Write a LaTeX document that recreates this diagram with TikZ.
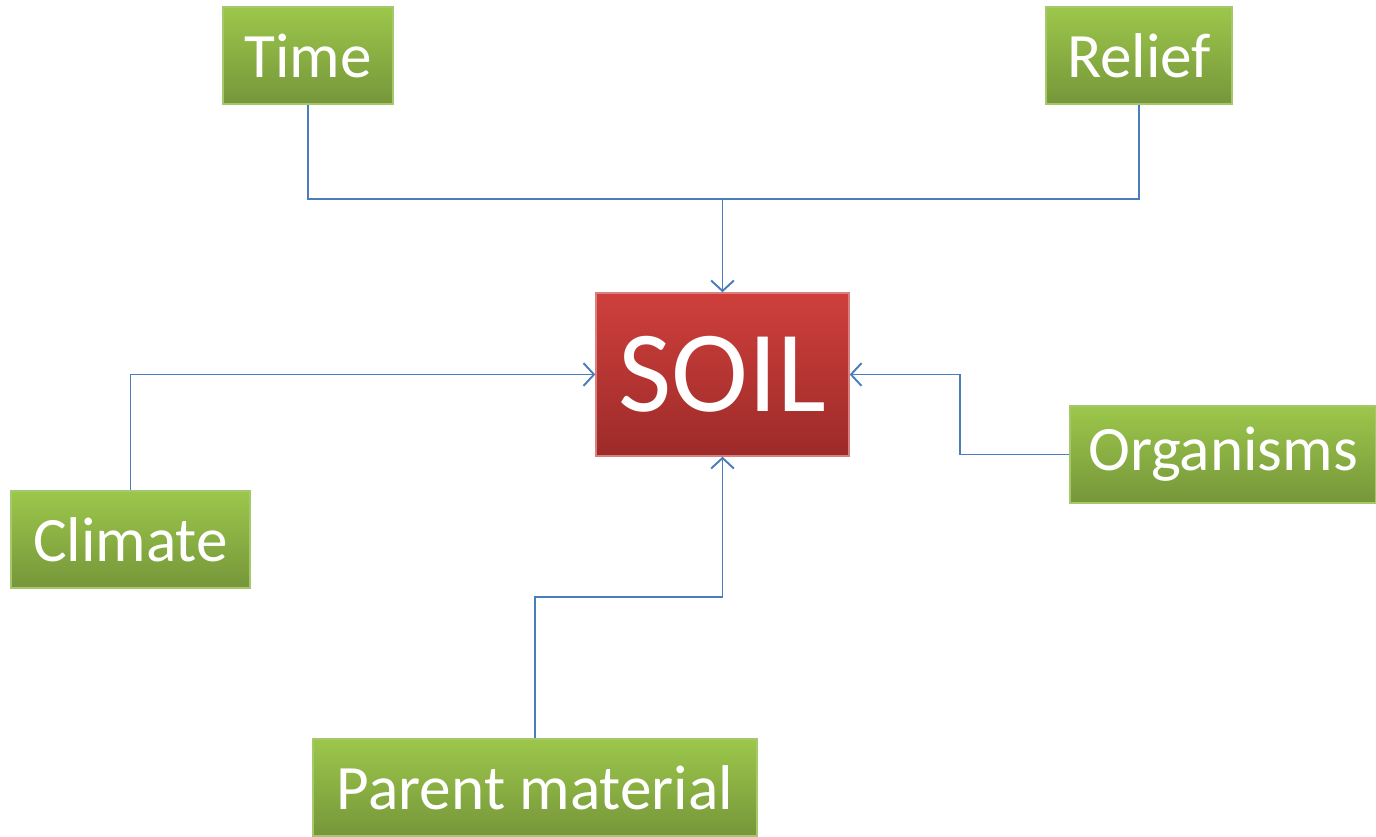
\documentclass[tikz,border=0pt]{standalone}
\usepackage{fontspec}
\setmainfont{Carlito}
\usetikzlibrary{arrows.meta}
\definecolor{factortop}{HTML}{9CC74B}
\definecolor{factorbot}{HTML}{76963A}
\definecolor{factorline}{HTML}{A5C86A}
\definecolor{soiltop}{HTML}{CF3F3C}
\definecolor{soilbot}{HTML}{9C2B29}
\definecolor{soilline}{HTML}{D9807E}
\definecolor{linkblue}{HTML}{4A7EBB}
\tikzset{
  factor/.style={draw=factorline,line width=0.8pt,top color=factortop,bottom color=factorbot,
    text=white,inner sep=0pt,minimum height=1.94cm,font=\fontsize{36}{40}\selectfont},
  soilbox/.style={draw=soilline,line width=0.8pt,top color=soiltop,bottom color=soilbot,
    text=white,inner sep=0pt,minimum width=5.06cm,minimum height=3.26cm,font=\fontsize{66}{70}\selectfont},
  link/.style={draw=linkblue,line width=1.1pt},
  >={Straight Barb[length=6pt,width=13pt,line width=1.1pt]},
}
\begin{document}
\begin{tikzpicture}[x=0.02cm,y=-0.02cm]
  \useasboundingbox (0,0) rectangle (1376,837);
  \node[soilbox]                     (soil)    at (722.5,374.5) {SOIL};
  \node[factor,minimum width=3.4cm]  (time)    at (308,55.5)    {Time};
  \node[factor,minimum width=3.72cm] (relief)  at (1139,55.5)   {Relief};
  \node[factor,minimum width=4.78cm] (climate) at (130.5,539.5) {Climate};
  \node[factor,minimum width=6.12cm] (org)     at (1223,454.5)  {Organisms};
  \node[factor,minimum width=8.88cm] (parent)  at (535,787.5)   {Parent material};
  % bends
  \coordinate (hub)     at (722.5,199);
  \coordinate (orgbend) at (960,454.5);
  \coordinate (pmbend)  at (722.5,597);
  \draw[link,->] (time.south) |- (hub) -- (soil.north);
  \draw[link] (relief.south) |- (hub);
  \draw[link,->] (climate.north) |- (soil.west);
  \draw[link,->] (org.west) -- (orgbend) |- (soil.east);
  \draw[link,->] (parent.north) |- (pmbend) -- (soil.south);
\end{tikzpicture}
\end{document}
